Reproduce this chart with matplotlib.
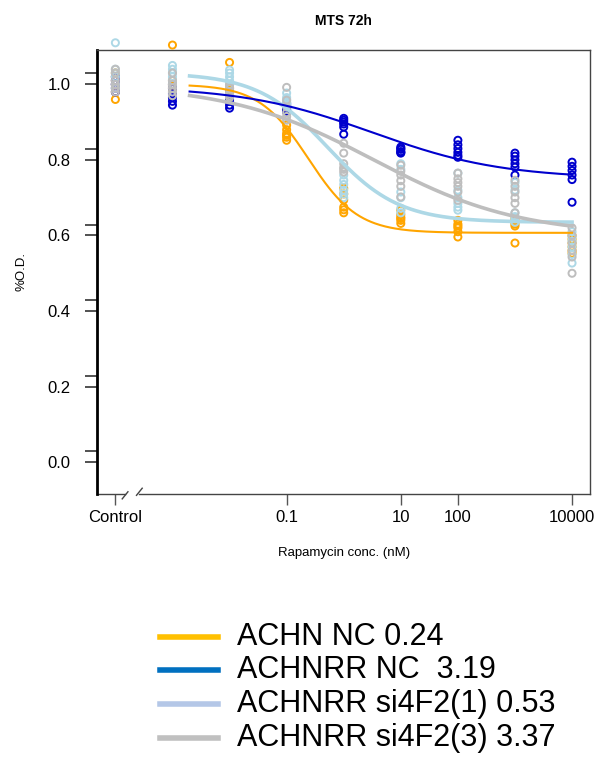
import numpy as np
import matplotlib
matplotlib.use("Agg")
import matplotlib.pyplot as plt
from matplotlib.lines import Line2D

plt.rcParams['font.family'] = ['Liberation Sans', 'DejaVu Sans']

# ---------------- data ----------------
# x positions: "Control" is drawn at 1e-4 (left of the axis break)
conc = [1e-4, 1e-3, 1e-2, 1e-1, 1, 10, 100, 1000, 10000]
xtick_pos = [1e-4, 0.1, 10, 100, 10000]
xtick_labels = ["Control", "0.1", "10", "100", "10000"]

achn_nc = [
    [0.96, 0.98, 1.00, 1.01, 1.02, 1.03],
    [1.104, 0.99, 1.00, 1.01, 0.98, 0.995],
    [1.058, 0.99, 0.98, 1.00, 0.97, 0.985],
    [0.892, 0.88, 0.87, 0.86, 0.852, 0.865],
    [0.725, 0.71, 0.694, 0.675, 0.668, 0.66],
    [0.667, 0.655, 0.648, 0.64, 0.632, 0.645],
    [0.64, 0.63, 0.62, 0.61, 0.596, 0.625],
    [0.646, 0.64, 0.635, 0.63, 0.625, 0.58],
    [0.59, 0.58, 0.57, 0.56, 0.553, 0.60],
]
achnrr_nc = [
    [0.98, 0.99, 1.00, 1.00, 1.01, 1.02],
    [0.945, 0.955, 0.965, 0.975, 0.99, 1.00],
    [0.937, 0.945, 0.955, 0.96, 0.97, 0.98],
    [0.945, 0.94, 0.935, 0.93, 0.927, 0.95],
    [0.91, 0.905, 0.90, 0.895, 0.887, 0.868],
    [0.834, 0.828, 0.822, 0.818, 0.82, 0.83],
    [0.852, 0.84, 0.83, 0.82, 0.812, 0.807],
    [0.818, 0.81, 0.80, 0.79, 0.781, 0.76],
    [0.794, 0.783, 0.772, 0.76, 0.748, 0.688],
]
achnrr_si1 = [
    [1.11, 1.04, 1.03, 1.02, 1.00, 0.99],
    [1.05, 1.04, 1.03, 1.02, 1.01, 1.00],
    [1.038, 1.03, 1.02, 1.01, 1.00, 0.99],
    [0.977, 0.965, 0.955, 0.95, 0.945, 0.96],
    [0.746, 0.735, 0.72, 0.71, 0.76, 0.70],
    [0.79, 0.775, 0.715, 0.70, 0.672, 0.66],
    [0.765, 0.72, 0.70, 0.685, 0.675, 0.667],
    [0.74, 0.72, 0.66, 0.65, 0.635, 0.645],
    [0.596, 0.585, 0.57, 0.55, 0.527, 0.61],
]
achnrr_si3 = [
    [1.04, 1.03, 1.01, 1.00, 0.99, 0.98],
    [1.03, 1.01, 1.00, 0.99, 0.98, 0.97],
    [0.998, 0.99, 0.98, 0.975, 0.97, 0.965],
    [0.992, 0.958, 0.94, 0.925, 0.915, 0.905],
    [0.844, 0.818, 0.79, 0.78, 0.775, 0.768],
    [0.786, 0.77, 0.76, 0.745, 0.73, 0.702],
    [0.765, 0.75, 0.74, 0.73, 0.715, 0.693],
    [0.746, 0.73, 0.715, 0.70, 0.685, 0.66],
    [0.62, 0.60, 0.58, 0.56, 0.543, 0.50],
]

series_data = [achn_nc, achnrr_nc, achnrr_si1, achnrr_si3]
legend_labels = ["ACHN NC 0.24", "ACHNRR NC  3.19",
                 "ACHNRR si4F2(1) 0.53", "ACHNRR si4F2(3) 3.37"]
# four-parameter logistic fit parameters
fit_top = [1.0, 0.995, 1.03, 1.0]
fit_bottom = [0.607, 0.75, 0.635, 0.60]
fit_ic50 = [0.24, 3.19, 0.53, 3.37]
fit_hill = [1.0, 0.38, 0.7, 0.34]

point_colors = ["#FFA500", "#0000CD", "#ADD8E6", "#BEBEBE"]
curve_widths = [1.5, 1.5, 2.6, 2.6]
legend_colors = ["#FFC000", "#0070C0", "#B4C7E7", "#C0C0C0"]

# ---------------- figure ----------------
W, H = 597, 764
fig = plt.figure(figsize=(W / 100, H / 100), dpi=100)
ax = fig.add_axes([0.162, 0.354, 0.827, 0.5806])

for data, col in zip(series_data, point_colors):
    for xc, vals in zip(conc, data):
        ax.scatter([xc] * len(vals), vals, s=26, facecolors="none",
                   edgecolors=col, linewidths=1.4, zorder=3, clip_on=False)

xs = np.logspace(-2.7, 4, 300)
curve_order = [2, 0, 1, 3]
for i in curve_order:
    t, b, ic, h = fit_top[i], fit_bottom[i], fit_ic50[i], fit_hill[i]
    ys = b + (t - b) / (1 + (xs / ic) ** h)
    ax.plot(xs, ys, color=point_colors[i], lw=curve_widths[i], zorder=4)

ax.set_xscale("log")
ax.set_xlim(10 ** -4.327, 10 ** 4.322)
ax.set_ylim(-0.083, 1.091)

ax.set_xticks(xtick_pos)
ax.set_xticklabels(xtick_labels)
ax.xaxis.set_minor_locator(matplotlib.ticker.NullLocator())
ax.set_yticks([0.0, 0.2, 0.4, 0.6, 0.8, 1.0])
ax.set_yticklabels(["0.0", "0.2", "0.4", "0.6", "0.8", "1.0"])
ax.set_yticks([0.029, 0.229, 0.429, 0.629, 0.829, 1.029], minor=True)
ax.tick_params(axis="y", which="both", direction="out", length=9,
               width=1.2, color="#333333", labelsize=12, pad=10)
ax.tick_params(axis="x", which="major", direction="out", length=8,
               width=1.0, color="#555555", labelsize=12, pad=4)

ax.spines["left"].set_linewidth(2.0)
ax.spines["left"].set_color("black")
for s in ["top", "right"]:
    ax.spines[s].set_linewidth(1.0)
    ax.spines[s].set_color("#444444")
ax.spines["bottom"].set_visible(False)

# bottom axis line with break marks
trans = ax.get_xaxis_transform()
ax.plot([10 ** -4.327, 10 ** -3.83], [0, 0], transform=trans, color="#444444",
        lw=1.0, clip_on=False)
ax.plot([10 ** -3.58, 10 ** 4.322], [0, 0], transform=trans, color="#444444",
        lw=1.0, clip_on=False)
ax.plot([10 ** -3.88, 10 ** -3.78], [-0.012, 0.004], transform=trans,
        color="#444444", lw=1.0, clip_on=False)
ax.plot([10 ** -3.63, 10 ** -3.53], [-0.004, 0.012], transform=trans,
        color="#444444", lw=1.0, clip_on=False)

ax.set_title("MTS 72h", fontsize=10, fontweight="bold", pad=18)
ax.set_ylabel("%O.D.", fontsize=9.5, labelpad=14)
ax.set_xlabel("Rapamycin conc. (nM)", fontsize=9.5, labelpad=16)

# legend (drawn below the plot)
row_y = [637, 670, 704, 738]
for lab, col, yy in zip(legend_labels, legend_colors, row_y):
    fy = 1 - yy / H
    fig.add_artist(Line2D([160 / W, 218 / W], [fy, fy], color=col, lw=4,
                          transform=fig.transFigure))
    fig.text(237 / W, fy, lab, fontsize=22, va="center", ha="left")

fig.savefig("out.png", dpi=100)
